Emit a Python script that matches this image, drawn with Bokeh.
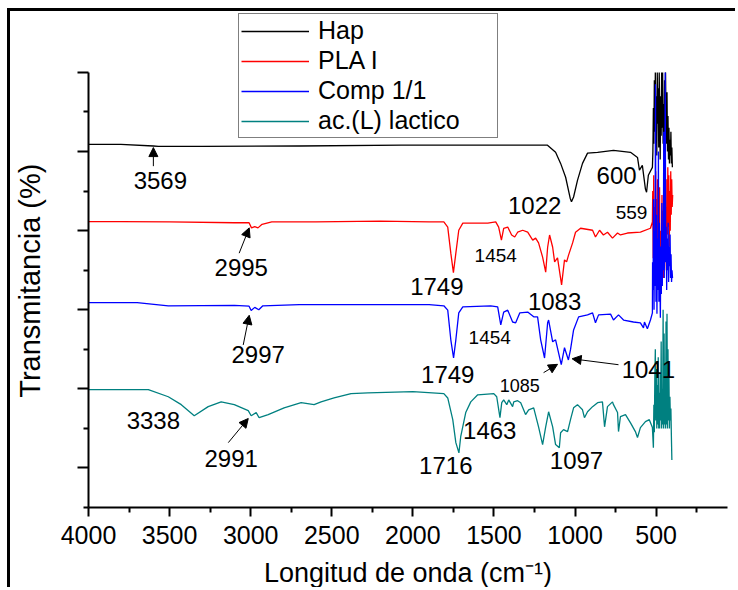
from bokeh.plotting import figure
from bokeh.models import (Range1d, FixedTicker, Legend, LegendItem, Label, Arrow, NormalHead)
from bokeh.embed import file_html
from bokeh.resources import INLINE

FONT = "Liberation Sans"

# ---------------- data (wavenumber cm-1, transmittance offset units) ----------------
hap_wn = [4000, 3800, 3600, 3569, 3300, 2700, 2070, 1460, 1170, 1120, 1089, 1058, 1030, 1022,
          1009, 985, 954, 923, 861, 763, 658, 615, 603, 585, 566, 559, 548, 523,
          520, 517, 514, 511, 508, 505, 502, 499, 496, 493, 490, 487, 484, 481, 478, 475,
          472, 469, 466, 463, 460, 457, 454, 451, 448, 445, 442, 439, 436, 433, 430, 427,
          424, 421, 418, 415, 412, 409, 406, 403, 400]
hap_t = [91.8, 91.8, 91.4, 91.3, 91.3, 91.4, 91.6, 91.6, 91.6, 89.8, 87.0, 83.5, 78.2, 77.3,
         78.5, 82.7, 87.0, 89.6, 89.8, 90.3, 89.8, 88.5, 85.3, 86.5, 80.5, 79.7, 84.0, 86.0,
         90, 101, 92, 108, 95, 110, 93, 104, 89, 110, 97, 106, 91, 110, 99, 88,
         104, 94, 110, 96, 110, 92, 102, 89, 108, 95, 110, 97, 92, 105, 90, 99,
         88, 96, 87, 93, 89, 95, 87, 91, 86]

pla_wn = [4000, 3800, 3500, 3100, 3010, 2995, 2975, 2955, 2930, 2870, 2600, 2200, 1900,
          1809, 1785, 1766, 1750, 1735, 1717, 1692, 1538, 1489, 1471, 1454, 1440, 1415,
          1391, 1372, 1354, 1323, 1292, 1261, 1243, 1225, 1200, 1181, 1169, 1157, 1138,
          1126, 1108, 1083, 1065, 1052, 1040, 1015, 997, 966, 892, 874, 849, 825, 800,
          769, 738, 720, 677, 597, 535, 523,
          521, 518, 515, 512, 509, 506, 503, 500, 497, 494, 491, 488, 485, 482, 479, 476,
          473, 470, 467, 464, 461, 458, 455, 452, 449, 446, 443, 440, 437, 434, 431, 428,
          425, 422, 419, 416, 413, 410, 407, 404, 401, 398]
pla_t = [72.3, 72.3, 72.2, 72.0, 72.0, 70.7, 71.0, 70.7, 71.6, 72.2, 72.2, 72.4, 72.2,
         72.2, 70.9, 64.3, 59.4, 64.3, 70.1, 71.9, 71.9, 72.2, 70.9, 67.6, 70.6, 70.9,
         68.9, 68.4, 69.6, 70.1, 69.6, 67.6, 68.1, 66.9, 63.3, 59.5, 65.8, 68.9, 65.8,
         62.1, 63.1, 56.3, 62.6, 62.1, 63.8, 66.9, 69.6, 70.6, 70.1, 68.4, 70.1, 68.9, 69.6,
         68.1, 69.4, 68.9, 69.4, 69.6, 70.6, 72.2,
         80, 63, 84, 58, 76, 61, 85, 57, 78, 62, 83, 59, 74, 64, 81, 56,
         54, 70, 60, 79, 63, 75, 58, 72, 61, 80, 66, 76, 60, 83, 69, 86,
         71, 84, 66, 80, 70, 85, 74, 83, 76, 79]

comp_wn = [4000, 3700, 3508, 3100, 3010, 2997, 2975, 2950, 2925, 2700, 2300, 1900,
           1809, 1785, 1766, 1749, 1735, 1717, 1692, 1520, 1477, 1458, 1440, 1415, 1385,
           1366, 1341, 1292, 1255, 1231, 1212, 1188, 1169, 1163, 1138, 1120, 1085, 1065,
           1041, 1028, 1009, 978, 923, 892, 874, 855, 781, 763, 732, 701, 640, 597, 578,
           572, 554, 535, 523,
           522, 519, 516, 513, 510, 507, 504, 501, 498, 495, 492, 489, 486, 483, 480, 477,
           474, 471, 468, 465, 462, 459, 456, 453, 450, 447, 444, 441, 438, 435, 432, 429,
           426, 423, 420, 417, 414, 411, 408, 405, 402, 399]
comp_t = [51.8, 51.8, 51.0, 51.1, 50.9, 49.8, 50.6, 50.0, 51.0, 51.3, 51.3, 51.3,
          51.0, 49.9, 42.4, 37.8, 42.4, 49.2, 50.7, 51.0, 50.7, 46.2, 49.4, 49.9, 46.9,
          46.7, 49.2, 49.4, 48.2, 48.2, 42.4, 37.8, 46.7, 47.4, 41.9, 42.4, 36.1, 40.4,
          37.3, 39.9, 44.9, 48.2, 48.7, 49.2, 46.7, 48.7, 48.9, 47.4, 48.7, 47.4, 46.9, 46.7, 45.4,
          46.9, 45.2, 47.4, 49.2,
          62, 55, 78, 50, 70, 56, 107, 52, 74, 49, 68, 55, 90, 52, 72, 58,
          48, 66, 54, 77, 56, 70, 60, 95, 58, 73, 110, 62, 71, 55, 68, 60,
          72, 57, 66, 61, 69, 58, 64, 57, 60, 58]

acl_wn = [4000, 3631, 3508, 3428, 3348, 3262, 3182, 3101, 3015, 2997, 2966, 2948, 2892,
          2794, 2689, 2609, 2566, 2486, 2381, 2277, 2000, 1809, 1785, 1754, 1735, 1716,
          1705, 1674, 1643, 1600, 1501, 1483, 1463, 1452, 1440, 1421, 1409, 1385, 1378,
          1354, 1335, 1305, 1286, 1255, 1225, 1200, 1181, 1163, 1138, 1120, 1097, 1089,
          1071, 1046, 1028, 1009, 985, 954, 942, 923, 892, 861, 831, 818, 800, 769, 763,
          738, 732, 720, 689, 658, 628, 615, 597, 566, 542, 523, 517,
          514, 511, 508, 505, 502, 499, 496, 493, 490, 487, 484, 481, 478, 475, 472, 469,
          466, 463, 460, 457, 454, 451, 448, 445, 442, 439, 436, 433, 430, 427, 424, 421,
          418, 415, 412, 409, 406, 403]
acl_t = [29.8, 29.8, 28.0, 26.0, 23.2, 25.5, 26.7, 26.0, 24.5, 23.2, 24.0, 22.7, 23.5,
         25.2, 26.5, 26.0, 26.7, 27.7, 28.8, 29.0, 29.3, 28.8, 27.7, 22.2, 16.4, 13.8,
         17.9, 24.0, 26.7, 28.5, 28.8, 28.0, 22.7, 26.5, 27.2, 26.0, 27.2, 25.5, 26.7,
         27.0, 26.5, 23.5, 24.7, 25.2, 20.4, 15.9, 20.4, 24.2, 20.4, 15.9, 15.1, 18.9,
         19.7, 19.2, 22.2, 25.2, 26.0, 24.7, 22.7, 24.2, 25.5, 26.5, 26.7, 20.4, 25.5, 26.7, 26.0,
         24.0, 19.2, 23.0, 23.5, 21.4, 19.2, 17.7, 20.2, 21.7, 22.2, 20.2, 15.1,
         26, 19, 33, 40, 22, 35, 20, 31, 21, 38, 20, 29, 20, 34, 22, 42,
         20, 30, 21, 50, 20, 44, 21, 36, 20, 47, 21, 49, 20, 40, 22, 33,
         20, 28, 22, 25, 18, 12]

series_names = ["Hap", "PLA I", "Comp 1/1", "ac.(L) lactico"]
series_colors = ["#000000", "#FF0000", "#0000FF", "#008080"]

# peak annotations: (text, x in cm-1, y, size)
peak_labels = [("3569", 3557, 82.7, 24), ("2995", 3058, 60.8, 24), ("2997", 2954, 38.6, 24),
               ("3338", 3600, 21.9, 24), ("2991", 3120, 12.4, 24), ("1022", 1249, 76.4, 24),
               ("600", 744, 84.0, 24), ("559", 652, 74.7, 19), ("1749", 1852, 55.8, 24),
               ("1454", 1489, 63.8, 19), ("1083", 1126, 52.0, 24), ("1454", 1526, 43.1, 19),
               ("1749", 1785, 33.6, 24), ("1085", 1341, 30.8, 18), ("1041", 548, 34.8, 24),
               ("1463", 1526, 19.4, 24), ("1716", 1797, 10.6, 24), ("1097", 991, 11.9, 24)]
# arrows: (x_start, y_start, x_end, y_end)
peak_arrows = [(3600, 86.3, 3600, 91.0), (3071, 64.3, 3009, 70.7), (3046, 41.1, 3009, 48.6),
               (3138, 16.4, 3015, 22.5), (1194, 34.1, 1108, 36.2), (732, 36.1, 1018, 37.6)]

x_major = [4000, 3500, 3000, 2500, 2000, 1500, 1000, 500]
x_minor = [3750, 3250, 2750, 2250, 1750, 1250, 750, 250]
y_major = [10, 30, 50, 70, 90, 110]
y_minor = [0, 20, 40, 60, 80, 100]
y_axis_top = 110

# ---------------- figure ----------------
# the page draws a thick frame on the left and top; the canvas sits inside it.
# The plot frame reaches up to the legend; the y axis itself stops at y_axis_top.
p = figure(width=728, height=579, output_backend="svg", toolbar_location=None,
           x_range=Range1d(4000, 60), y_range=Range1d(0, 124.9),
           min_border_left=77, min_border_right=11, min_border_top=2, min_border_bottom=82)
p.styles = {"border-left": "3px solid black", "border-top": "3px solid black",
            "margin-left": "7px", "margin-top": "8px"}
p.background_fill_color = "white"
p.border_fill_color = "white"
p.outline_line_color = None
p.grid.visible = False

renderers = []
for wn, t, c in zip([hap_wn, pla_wn, comp_wn, acl_wn], [hap_t, pla_t, comp_t, acl_t], series_colors):
    renderers.append(p.line(wn, t, line_color=c, line_width=1.3))

# axes
xa = p.xaxis[0]
xa.ticker = FixedTicker(ticks=x_major, minor_ticks=x_minor)
xa.axis_label = "Longitud de onda (cm\u207b\u00b9)"
ya = p.yaxis[0]
ya.ticker = FixedTicker(ticks=y_major, minor_ticks=y_minor)
ya.bounds = (0, y_axis_top)
# trailing no-break spaces keep the title centred on the axis rather than the taller frame
ya.axis_label = "Transmitancia (%)" + "\u00a0" * 5
ya.major_label_overrides = {t: "" for t in y_major}
ya.major_label_standoff = 0
for ax in (xa, ya):
    ax.axis_line_width = 2
    ax.major_tick_line_width = 2
    ax.minor_tick_line_width = 2
    ax.major_tick_in = 0
    ax.minor_tick_in = 0
    ax.minor_tick_out = 5
    ax.axis_label_text_font = FONT
    ax.axis_label_text_font_style = "normal"
    ax.axis_label_text_color = "black"
    ax.major_label_text_font = FONT
    ax.major_label_text_color = "black"
xa.major_tick_out = 9
ya.major_tick_out = 11
xa.major_label_text_font_size = "25px"
xa.major_label_standoff = 9
xa.axis_label_text_font_size = "27px"
xa.axis_label_standoff = 11
ya.axis_label_text_font_size = "29px"
ya.axis_label_standoff = 32

# legend
legend = Legend(items=[LegendItem(label=n, renderers=[r]) for n, r in zip(series_names, renderers)],
                location=(150, 369), orientation="vertical",
                label_text_font=FONT, label_text_font_size="25px", label_text_color="black",
                glyph_width=68, glyph_height=20, label_standoff=9, padding=2, spacing=1,
                margin=0, label_width=177, label_height=20,
                border_line_color="black", border_line_width=1,
                background_fill_color="white", background_fill_alpha=1.0)
p.add_layout(legend)

for txt, x, y, s in peak_labels:
    p.add_layout(Label(x=x, y=y, text=txt, text_font=FONT, text_font_size=f"{s}px",
                       text_align="center", text_baseline="middle", text_color="black"))
for xs, ys, xe, ye in peak_arrows:
    p.add_layout(Arrow(x_start=xs, y_start=ys, x_end=xe, y_end=ye, line_width=1,
                       line_color="black",
                       end=NormalHead(size=9, fill_color="black", line_color="black", line_width=1)))

open("out.html", "w").write(file_html(p, INLINE))
